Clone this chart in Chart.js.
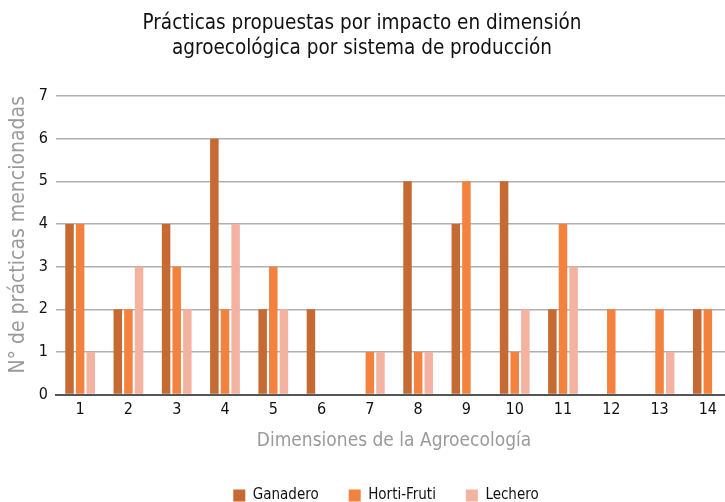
<!DOCTYPE html>
<html><head><meta charset="utf-8">
<script src="https://cdn.jsdelivr.net/npm/chart.js@4.4.0/dist/chart.umd.min.js"></script>
<style>
html,body{margin:0;padding:0;background:#fff;overflow:hidden;}
#wrap{width:725px;height:502px;overflow:hidden;position:relative;background:#fff;}
canvas{display:block;}
</style></head><body>
<div id="wrap"><canvas id="c" width="740" height="509"></canvas></div>
<script>
const categories = ['1','2','3','4','5','6','7','8','9','10','11','12','13','14'];
const ganadero   = [4,2,4,6,2,2,0,5,4,5,2,0,0,2];
const hortiFruti = [4,2,3,2,3,0,1,1,5,1,4,2,2,2];
const lechero    = [1,3,2,4,2,0,1,1,0,2,3,0,1,0];
const seriesNames = ['Ganadero','Horti-Fruti','Lechero'];
const yTickLabels = ['0','1','2','3','4','5','6','7'];
const titleLines = ['Prácticas propuestas por impacto en dimensión','agroecológica por sistema de producción'];
const xTitle = 'Dimensiones de la Agroecología';
const yTitle = 'N° de prácticas mencionadas';

const FF = "'DejaVu Sans Condensed','Liberation Sans Narrow',sans-serif";
Chart.defaults.font.family = FF;

const shiftPlugin = {
  id:'shift',
  afterLayout(chart){
    const t = chart.titleBlock;
    if (t){ t.left = 0; t.right = 724; t.width = 724; }
    const l = chart.legend;
    if (l){
      const dx = 20; l.left += dx; l.right += dx;
      const h = l.height; l.top = 458; l.bottom = l.top + h;
    }
  }
};

new Chart(document.getElementById('c'), {
  type:'bar',
  data:{
    labels: categories,
    datasets:[
      {label:seriesNames[0], data:ganadero, backgroundColor:'#C46A32'},
      {label:seriesNames[1], data:hortiFruti, backgroundColor:'#F2823E'},
      {label:seriesNames[2], data:lechero, backgroundColor:'#F4B2A1'}
    ]
  },
  plugins:[shiftPlugin],
  options:{
    responsive:false, animation:false, devicePixelRatio:1,
    datasets:{bar:{categoryPercentage:0.66, barPercentage:0.8, borderWidth:0}},
    layout:{padding:{left:0,right:8,top:0,bottom:0}},
    plugins:{
      title:{display:true, text:titleLines, color:'#111',
        font:{size:20.5, weight:'normal', lineHeight:1.22}, padding:{top:11.5,bottom:34.5}},
      legend:{position:'bottom', labels:{boxWidth:12, boxHeight:12, padding:30, color:'#111', font:{size:15}}},
      tooltip:{enabled:false}
    },
    scales:{
      x:{
        grid:{display:false, drawTicks:false},
        border:{display:true, color:'#555', width:2},
        ticks:{color:'#111', font:{size:16}, padding:6},
        title:{display:true, text:xTitle, color:'#9a9a9a', font:{size:19}, padding:{top:3.4,bottom:2}}
      },
      y:{
        min:0, max:7,
        ticks:{stepSize:1, color:'#111', font:{size:16}, padding:8,
          callback:(v)=> yTickLabels[v] !== undefined ? yTickLabels[v] : ''},
        grid:{color:'#b0b0b0', lineWidth:1.5, drawTicks:false},
        border:{display:false},
        title:{display:true, text:yTitle, color:'#9a9a9a', font:{size:21}, padding:{top:6,bottom:4}, align:'end'},
        afterFit(s){ s.width = 56; }
      }
    }
  }
});
</script>
</body></html>
